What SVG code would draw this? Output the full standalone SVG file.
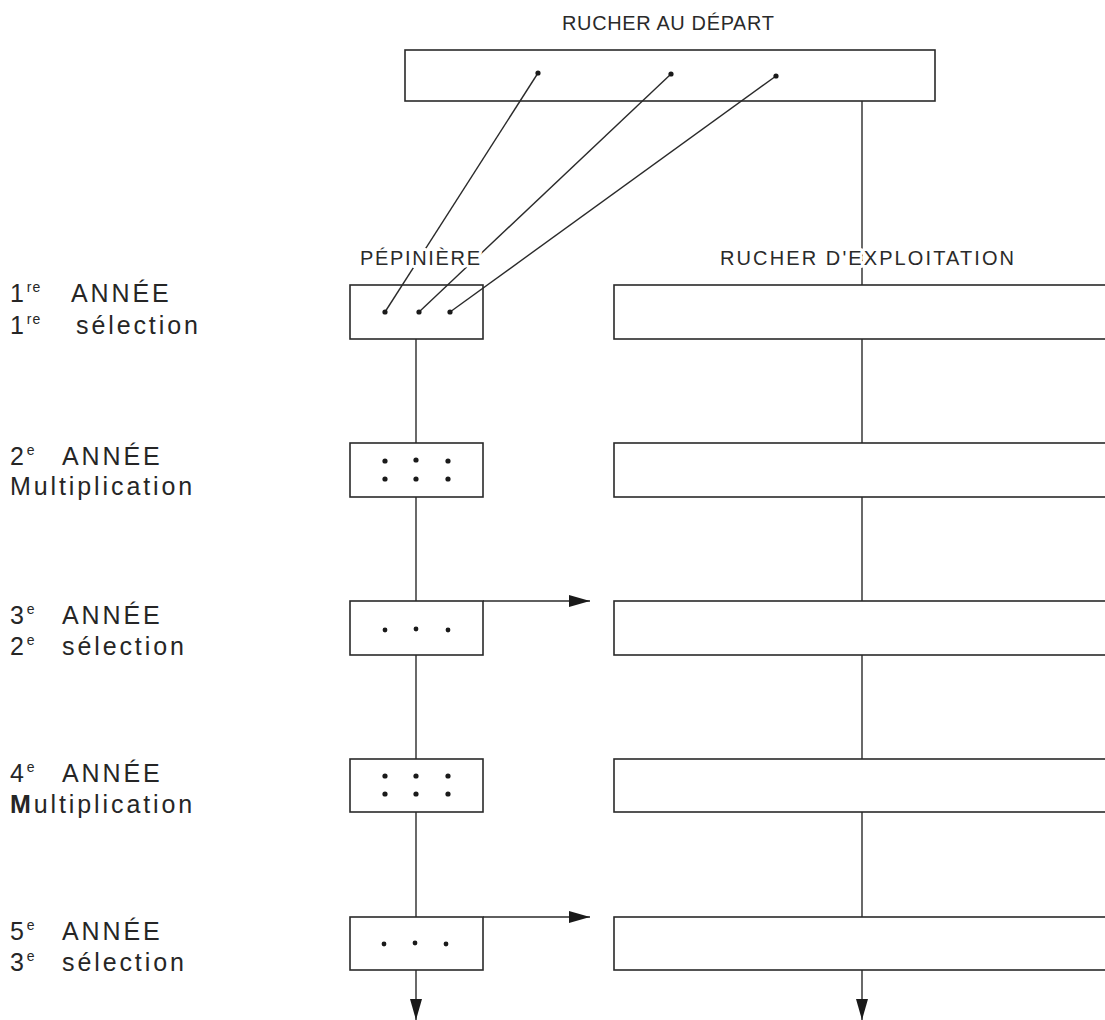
<svg xmlns="http://www.w3.org/2000/svg" width="1105" height="1020" viewBox="0 0 1105 1020">
<style>
  .box{fill:none;stroke:#2a2a2a;stroke-width:1.6}
  .ln{fill:none;stroke:#2a2a2a;stroke-width:1.4}
  .dot{fill:#1a1a1a}
  .hd{font-family:"Liberation Sans",Arial,sans-serif;font-size:20px;fill:#2a2a2a;stroke:#fff;stroke-width:6;paint-order:stroke;stroke-linejoin:round}
  .lab{font-family:"Liberation Sans",Arial,sans-serif;font-size:25px;fill:#262626;letter-spacing:2.9px}
  .sup{font-size:14px;letter-spacing:1px}
</style>
<defs>
  <marker id="ah" markerUnits="userSpaceOnUse" markerWidth="24" markerHeight="14" refX="21" refY="7" orient="auto">
    <path d="M0,1 L21,7 L0,13 Z" fill="#1a1a1a"/>
  </marker>
</defs>

<g id="connectors">
  <line class="ln" x1="538" y1="73" x2="385" y2="312"/>
  <line class="ln" x1="671" y1="74" x2="419" y2="312"/>
  <line class="ln" x1="776" y1="76" x2="450" y2="312"/>
  <line class="ln" x1="862" y1="101" x2="862" y2="285"/>
  <line class="ln" x1="416" y1="339" x2="416" y2="443"/>
  <line class="ln" x1="416" y1="497" x2="416" y2="601"/>
  <line class="ln" x1="416" y1="655" x2="416" y2="759"/>
  <line class="ln" x1="416" y1="812" x2="416" y2="917"/>
  <line class="ln" x1="416" y1="970" x2="416" y2="1020" marker-end="url(#ah)"/>
  <line class="ln" x1="862" y1="339" x2="862" y2="443"/>
  <line class="ln" x1="862" y1="497" x2="862" y2="601"/>
  <line class="ln" x1="862" y1="655" x2="862" y2="759"/>
  <line class="ln" x1="862" y1="812" x2="862" y2="917"/>
  <line class="ln" x1="862" y1="970" x2="862" y2="1020" marker-end="url(#ah)"/>
  <line class="ln" x1="483" y1="601" x2="590" y2="601" marker-end="url(#ah)"/>
  <line class="ln" x1="483" y1="917" x2="590" y2="917" marker-end="url(#ah)"/>
</g>

<g id="rucher-depart">
  <rect class="box" x="405" y="50" width="530" height="51"/>
  <circle class="dot" cx="538" cy="73" r="2.6"/>
  <circle class="dot" cx="671" cy="74" r="2.6"/>
  <circle class="dot" cx="776" cy="76" r="2.6"/>
  <text class="hd" x="668" y="30" text-anchor="middle" textLength="212" lengthAdjust="spacing">RUCHER AU DÉPART</text>
</g>

<g id="headers">
  <text class="hd" x="420" y="265" text-anchor="middle" textLength="120" lengthAdjust="spacing">PÉPINIÈRE</text>
  <text class="hd" x="867" y="265" text-anchor="middle" textLength="294" lengthAdjust="spacing">RUCHER D'EXPLOITATION</text>
</g>

<g id="pep-1">
  <rect class="box" x="350" y="285" width="133" height="54"/>
  <circle class="dot" cx="385" cy="312" r="2.6"/>
  <circle class="dot" cx="419" cy="312" r="2.6"/>
  <circle class="dot" cx="450" cy="312" r="2.6"/>
</g>
<g id="pep-2">
  <rect class="box" x="350" y="443" width="133" height="54"/>
  <circle class="dot" cx="385" cy="461" r="2.6"/>
  <circle class="dot" cx="416" cy="460" r="2.6"/>
  <circle class="dot" cx="448" cy="461" r="2.6"/>
  <circle class="dot" cx="385" cy="479" r="2.6"/>
  <circle class="dot" cx="416" cy="479" r="2.6"/>
  <circle class="dot" cx="448" cy="479" r="2.6"/>
</g>
<g id="pep-3">
  <rect class="box" x="350" y="601" width="133" height="54"/>
  <circle class="dot" cx="385" cy="630" r="2.4"/>
  <circle class="dot" cx="416" cy="629" r="2.4"/>
  <circle class="dot" cx="448" cy="630" r="2.4"/>
</g>
<g id="pep-4">
  <rect class="box" x="350" y="759" width="133" height="53"/>
  <circle class="dot" cx="385" cy="776" r="2.6"/>
  <circle class="dot" cx="416" cy="776" r="2.6"/>
  <circle class="dot" cx="448" cy="776" r="2.6"/>
  <circle class="dot" cx="385" cy="794" r="2.6"/>
  <circle class="dot" cx="416" cy="794" r="2.6"/>
  <circle class="dot" cx="448" cy="794" r="2.6"/>
</g>
<g id="pep-5">
  <rect class="box" x="350" y="917" width="133" height="53"/>
  <circle class="dot" cx="384" cy="944" r="2.4"/>
  <circle class="dot" cx="415" cy="943" r="2.4"/>
  <circle class="dot" cx="446" cy="944" r="2.4"/>
</g>

<g id="exp-1"><rect class="box" x="614" y="285" width="500" height="54"/></g>
<g id="exp-2"><rect class="box" x="614" y="443" width="500" height="54"/></g>
<g id="exp-3"><rect class="box" x="614" y="601" width="500" height="54"/></g>
<g id="exp-4"><rect class="box" x="614" y="759" width="500" height="53"/></g>
<g id="exp-5"><rect class="box" x="614" y="917" width="500" height="53"/></g>

<g id="label-1">
  <text class="lab" x="10" y="302">1<tspan class="sup" dy="-10">re</tspan></text>
  <text class="lab" x="71" y="302">ANNÉE</text>
  <text class="lab" x="10" y="334">1<tspan class="sup" dy="-10">re</tspan></text>
  <text class="lab" x="76" y="334">sélection</text>
</g>
<g id="label-2">
  <text class="lab" x="10" y="465">2<tspan class="sup" dy="-10">e</tspan></text>
  <text class="lab" x="62" y="465">ANNÉE</text>
  <text class="lab" x="10" y="495">Multiplication</text>
</g>
<g id="label-3">
  <text class="lab" x="10" y="624">3<tspan class="sup" dy="-10">e</tspan></text>
  <text class="lab" x="62" y="624">ANNÉE</text>
  <text class="lab" x="10" y="655">2<tspan class="sup" dy="-10">e</tspan></text>
  <text class="lab" x="62" y="655">sélection</text>
</g>
<g id="label-4">
  <text class="lab" x="10" y="782">4<tspan class="sup" dy="-10">e</tspan></text>
  <text class="lab" x="62" y="782">ANNÉE</text>
  <text class="lab" x="10" y="813"><tspan font-weight="bold">M</tspan>ultiplication</text>
</g>
<g id="label-5">
  <text class="lab" x="10" y="940">5<tspan class="sup" dy="-10">e</tspan></text>
  <text class="lab" x="62" y="940">ANNÉE</text>
  <text class="lab" x="10" y="971">3<tspan class="sup" dy="-10">e</tspan></text>
  <text class="lab" x="62" y="971">sélection</text>
</g>
</svg>
